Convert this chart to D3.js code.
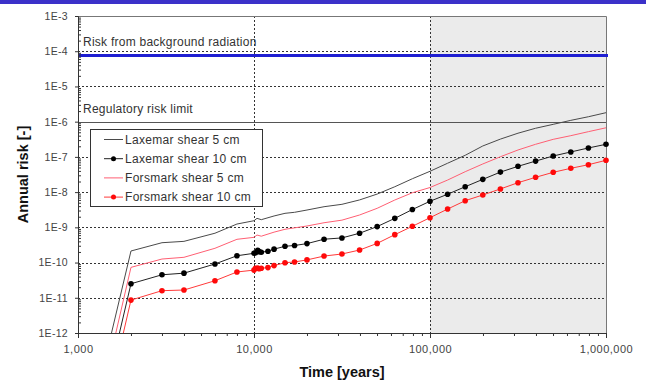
<!DOCTYPE html>
<html>
<head>
<meta charset="utf-8">
<script src="https://cdn.jsdelivr.net/npm/d3@7"></script>
<style>
  body { margin: 0; background: #fff; }
  svg { display: block; font-family: "Liberation Sans", Arial, sans-serif; }
  .tick text { fill: #444; }
</style>
</head>
<body>
<div id="chart"></div>
<script>
const width = 646
const height = 383
const margin = { left: 78, right: 40, top: 16, bottom: 50 }

// times (years) and annual risk values
const markerTimes = [2000, 3000, 4000, 6000, 8000, 10000, 10200, 10500, 10700, 11000, 12000, 13000, 15000, 17000, 20000,
  25000, 31600, 39800, 50100, 63100, 79400, 100000, 125900, 158500, 199500, 251200, 316200, 398100, 501200, 631000, 794300, 1000000]

const laxemar10Time = [1720].concat(markerTimes)
const laxemar10Risk = [1e-12, 2.5e-11, 4.5e-11, 5.0e-11, 9.1e-11, 1.56e-10, 1.83e-10, 1.9e-10, 2.22e-10, 2.04e-10, 1.97e-10, 2.1e-10, 2.4e-10, 2.9e-10, 3.05e-10, 3.45e-10,
  4.6e-10, 5.0e-10, 6.8e-10, 1.05e-9, 1.8e-9, 3.2e-9, 5.5e-9, 8.7e-9, 1.42e-8, 2.3e-8, 3.7e-8, 5.4e-8, 7.6e-8, 1.06e-7, 1.38e-7, 1.79e-7, 2.28e-7]

const forsmark10Time = [1810].concat(markerTimes)
const forsmark10Risk = [1e-12, 8.6e-12, 1.59e-11, 1.66e-11, 3.05e-11, 5.4e-11, 6.1e-11, 6.9e-11, 7.0e-11, 6.7e-11, 6.9e-11, 7.2e-11, 8.2e-11, 9.9e-11, 1.04e-10, 1.19e-10,
  1.53e-10, 1.75e-10, 2.27e-10, 3.5e-10, 6.2e-10, 1.07e-9, 1.88e-9, 3.3e-9, 5.7e-9, 8.3e-9, 1.23e-8, 1.85e-8, 2.63e-8, 3.65e-8, 4.74e-8, 6.0e-8, 8.0e-8]

const laxemar5Time = [1550, 2000, 3000, 4000, 6000, 8000, 10000, 10400, 11000, 13000, 15000, 17000, 20000, 25000, 31600, 39800, 50100, 63100, 79400,
  100000, 125900, 158500, 199500, 251200, 316200, 398100, 501200, 631000, 794300, 1000000]
const laxemar5Risk = [1e-12, 2.13e-10, 3.66e-10, 4.0e-10, 6.8e-10, 1.24e-9, 1.54e-9, 1.8e-9, 1.65e-9, 2.1e-9, 2.5e-9, 2.67e-9, 3.1e-9, 3.85e-9, 4.5e-9, 6.0e-9, 8.8e-9, 1.42e-8, 2.4e-8,
  3.9e-8, 6.6e-8, 1.11e-7, 2.04e-7, 3.2e-7, 4.7e-7, 6.5e-7, 8.4e-7, 1.09e-6, 1.38e-6, 1.8e-6]

const forsmark5Time = [1640, 2000, 3000, 4000, 6000, 8000, 10000, 10400, 11000, 13000, 15000, 20000, 25000, 31600, 39800, 50100, 63100, 79400,
  100000, 125900, 158500, 199500, 251200, 316200, 398100, 501200, 631000, 794300, 1000000]
const forsmark5Risk = [1e-12, 7.3e-11, 1.26e-10, 1.41e-10, 2.54e-10, 4.57e-10, 5.2e-10, 6.05e-10, 5.6e-10, 7.3e-10, 8.8e-10, 1.09e-9, 1.35e-9, 1.6e-9, 2.24e-9, 3.47e-9, 5.97e-9, 9.6e-9,
  1.35e-8, 2.2e-8, 3.8e-8, 6.3e-8, 1.01e-7, 1.57e-7, 2.28e-7, 3.15e-7, 4.0e-7, 5.2e-7, 6.7e-7]

const xDecades = [1000, 10000, 100000, 1000000]
const yDecades = [1e-12, 1e-11, 1e-10, 1e-9, 1e-8, 1e-7, 1e-6, 1e-5, 1e-4, 1e-3]
const backgroundRisk = 7.5e-5
const regulatoryLimit = 1e-6
const shadeStart = 100000

const seriesNames = ["Laxemar shear 5 cm", "Laxemar shear 10 cm", "Forsmark shear 5 cm", "Forsmark shear 10 cm"]

const series = [
  { name: seriesNames[0], t: laxemar5Time, v: laxemar5Risk, line: "#4a4a4a", dot: null },
  { name: seriesNames[1], t: laxemar10Time, v: laxemar10Risk, line: "#222", dot: "#000" },
  { name: seriesNames[2], t: forsmark5Time, v: forsmark5Risk, line: "#ff5f73", dot: null },
  { name: seriesNames[3], t: forsmark10Time, v: forsmark10Risk, line: "#ff3a3a", dot: "#ff0a0a" }
]

const svg = d3.select("#chart").append("svg")
  .attr("width", width).attr("height", height)

// top banner strip
svg.append("rect").attr("x", 0).attr("y", 0).attr("width", width).attr("height", 4).attr("fill", "#3b31c9")

const x = d3.scaleLog().domain([1000, 1000000]).range([margin.left, width - margin.right])
const y = d3.scaleLog().domain([1e-12, 1e-3]).range([height - margin.bottom, margin.top])

const x0 = x.range()[0], x1 = x.range()[1]
const yTop = y.range()[1], yBot = y.range()[0]

svg.append("clipPath").attr("id", "plot-clip")
  .append("rect").attr("x", x0).attr("y", yTop).attr("width", x1 - x0).attr("height", yBot - yTop)

// shaded period
svg.append("rect")
  .attr("x", x(shadeStart)).attr("y", yTop)
  .attr("width", x1 - x(shadeStart)).attr("height", yBot - yTop)
  .attr("fill", "#ebebeb")

// dashed grid
const grid = svg.append("g").attr("stroke", "#333").attr("stroke-dasharray", "2,2").attr("stroke-width", 1)
grid.selectAll("line.h")
  .data(yDecades.filter(d => d !== regulatoryLimit && d !== 1e-3 && d !== 1e-12))
  .enter().append("line")
  .attr("x1", x0).attr("x2", x1)
  .attr("y1", d => Math.round(y(d)) + 0.5).attr("y2", d => Math.round(y(d)) + 0.5)
grid.selectAll("line.v")
  .data(xDecades.slice(1, 3))
  .enter().append("line")
  .attr("y1", yTop).attr("y2", yBot)
  .attr("x1", d => Math.round(x(d)) + 0.5).attr("x2", d => Math.round(x(d)) + 0.5)

// frame top and right
svg.append("path")
  .attr("d", `M${x0},${yTop + 0.5}H${x1 + 0.5}V${yBot}`)
  .attr("fill", "none").attr("stroke", "#777")

// regulatory risk limit
svg.append("line")
  .attr("x1", x0).attr("x2", x1)
  .attr("y1", Math.round(y(regulatoryLimit)) + 0.5).attr("y2", Math.round(y(regulatoryLimit)) + 0.5)
  .attr("stroke", "#555").attr("stroke-width", 1)

// background radiation
svg.append("line")
  .attr("x1", x0).attr("x2", x1 + 2)
  .attr("y1", y(backgroundRisk)).attr("y2", y(backgroundRisk))
  .attr("stroke", "#1f1fd2").attr("stroke-width", 3)

svg.append("text").attr("x", x0 + 5).attr("y", 46)
  .attr("font-size", 12).attr("letter-spacing", 0.25).attr("fill", "#333")
  .text("Risk from background radiation")
svg.append("text").attr("x", x0 + 5).attr("y", 113)
  .attr("font-size", 12).attr("letter-spacing", 0.25).attr("fill", "#333")
  .text("Regulatory risk limit")

// series
const line = d3.line().x(d => x(d[0])).y(d => y(d[1]))
const plot = svg.append("g").attr("clip-path", "url(#plot-clip)")
series.forEach(s => {
  const pts = s.t.map((t, i) => [t, s.v[i]])
  plot.append("path").datum(pts)
    .attr("d", line).attr("fill", "none")
    .attr("stroke", s.line).attr("stroke-width", 1)
})
series.filter(s => s.dot).forEach(s => {
  const pts = s.t.map((t, i) => [t, s.v[i]]).filter(d => d[1] > 1e-12)
  svg.append("g").selectAll("circle").data(pts).enter().append("circle")
    .attr("cx", d => x(d[0])).attr("cy", d => y(d[1])).attr("r", 2.8)
    .attr("fill", s.dot)
})

// axes
const minorX = []
for (let e = 3; e < 6; e++) for (let k = 2; k < 10; k++) minorX.push(k * Math.pow(10, e))
const minorY = []
for (let e = -12; e < -3; e++) for (let k = 2; k < 10; k++) minorY.push(k * Math.pow(10, e))

const xAxis = svg.append("g").attr("transform", `translate(0,${yBot})`)
  .call(d3.axisBottom(x).tickValues(xDecades).tickFormat(d3.format(",")).tickSize(5).tickPadding(7))
xAxis.selectAll("text").attr("font-size", 11).attr("letter-spacing", 0.5)
svg.append("g").attr("transform", `translate(0,${yBot})`)
  .call(d3.axisBottom(x).tickValues(minorX).tickFormat("").tickSize(3))
  .select(".domain").remove()

const yAxis = svg.append("g").attr("transform", `translate(${x0},0)`)
  .call(d3.axisLeft(y).tickValues(yDecades).tickFormat(d => "1E" + Math.round(Math.log10(d))).tickSize(3).tickPadding(7))
yAxis.selectAll("text").attr("font-size", 10.5).attr("letter-spacing", 0.3)
svg.append("g").attr("transform", `translate(${x0},0)`)
  .call(d3.axisRight(y).tickValues(minorY).tickFormat("").tickSize(3))
  .select(".domain").remove()

svg.selectAll(".domain, .tick line").attr("stroke", "#333")

svg.append("text")
  .attr("x", (x0 + x1) / 2).attr("y", 377)
  .attr("text-anchor", "middle").attr("font-size", 14.5).attr("font-weight", "bold").attr("fill", "#111")
  .text("Time [years]")
svg.append("text")
  .attr("transform", `translate(28,${(yTop + yBot) / 2}) rotate(-90)`)
  .attr("text-anchor", "middle").attr("font-size", 14.5).attr("font-weight", "bold").attr("fill", "#111")
  .text("Annual risk [-]")

// legend
const legend = svg.append("g")
legend.append("rect").attr("x", 90.5).attr("y", 129.5).attr("width", 172).attr("height", 77)
  .attr("fill", "#fff").attr("stroke", "#333")
const item = legend.selectAll("g.item").data(series).enter().append("g")
  .attr("transform", (d, i) => `translate(0,${139.5 + i * 19.2})`)
item.append("line").attr("x1", 104).attr("x2", 123).attr("stroke", d => d.line)
item.filter(d => d.dot).append("circle").attr("cx", 113.5).attr("r", 2.5).attr("fill", d => d.dot)
item.append("text").attr("x", 125).attr("dy", "0.35em")
  .attr("font-size", 12).attr("letter-spacing", 0.3).attr("fill", "#333")
  .text(d => d.name)
</script>
</body>
</html>
